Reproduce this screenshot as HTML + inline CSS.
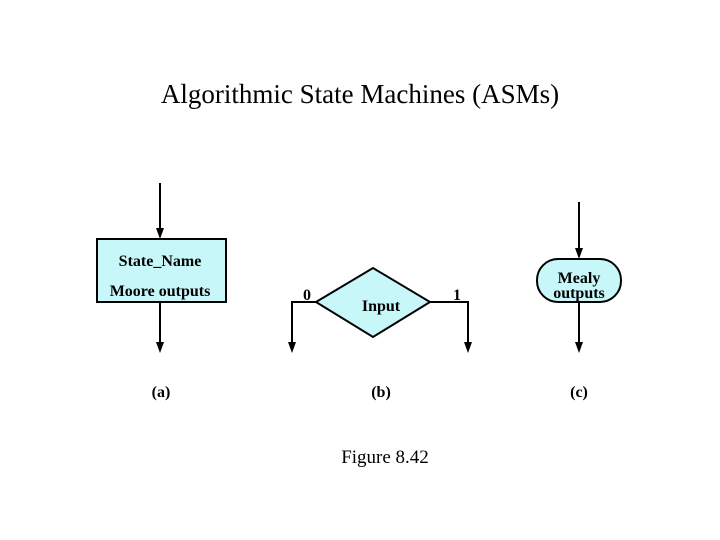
<!DOCTYPE html>
<html><head><style>
body{margin:0;background:#fff;}
svg{display:block;}
</style></head><body>
<svg width="720" height="540" xmlns="http://www.w3.org/2000/svg">
<text x="360" y="103" font-family="Liberation Serif" font-size="27" text-anchor="middle">Algorithmic State Machines (ASMs)</text>
<g stroke="#000" stroke-width="2" fill="none">
<line x1="160" y1="183" x2="160" y2="230"/>
<line x1="160" y1="302" x2="160" y2="345"/>
<polyline points="316,302 292,302 292,345"/>
<polyline points="430,302 468,302 468,345"/>
<line x1="579" y1="202" x2="579" y2="250"/>
<line x1="579" y1="302" x2="579" y2="345"/>
</g>
<g fill="#000">
<polygon points="156,228 164,228 160,239"/>
<polygon points="156,342 164,342 160,353"/>
<polygon points="288,342 296,342 292,353"/>
<polygon points="464,342 472,342 468,353"/>
<polygon points="575,248 583,248 579,259"/>
<polygon points="575,342 583,342 579,353"/>
</g>
<rect x="97" y="239" width="129" height="63" fill="#c8f7f9" stroke="#000" stroke-width="2"/>
<polygon points="316,302 373,268 430,302 373,337" fill="#c8f7f9" stroke="#000" stroke-width="2"/>
<rect x="537" y="259" width="84" height="43" rx="21" fill="#c8f7f9" stroke="#000" stroke-width="2"/>
<g font-family="Liberation Serif" font-weight="bold" font-size="16" text-anchor="middle">
<text x="160" y="266">State_Name</text>
<text x="160" y="296">Moore outputs</text>
<text x="381" y="311">Input</text>
<text x="579" y="283">Mealy</text>
<text x="579" y="298">outputs</text>
<text x="307" y="300">0</text>
<text x="457" y="300">1</text>
<text x="161" y="397">(a)</text>
<text x="381" y="397">(b)</text>
<text x="579" y="397">(c)</text>
</g>
<text x="385" y="463" font-family="Liberation Serif" font-size="19" text-anchor="middle">Figure 8.42</text>
</svg>
</body></html>
